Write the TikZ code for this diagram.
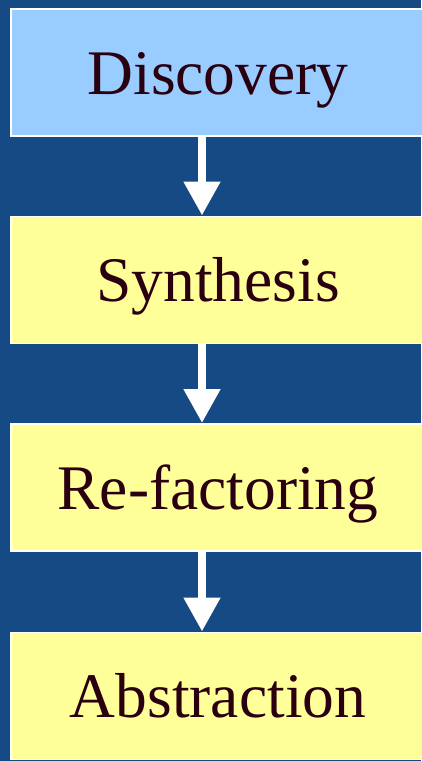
\documentclass[tikz,border=0pt]{standalone}
\usepackage{fontspec}
\setmainfont{Liberation Serif}
\usetikzlibrary{arrows.meta}
\definecolor{bgblue}{RGB}{22,74,132}
\definecolor{boxblue}{RGB}{153,204,255}
\definecolor{boxyellow}{RGB}{255,255,153}
\definecolor{txt}{RGB}{42,0,16}
\tikzset{
  stage/.style={draw=white, line width=1.5pt, minimum width=416pt, minimum height=127pt, inner sep=0pt, anchor=north west},
  label/.style={anchor=base, text=txt, font=\fontsize{63.5}{63.5}\selectfont, inner sep=0pt},
  flow/.style={draw=white, line width=8pt, -{Triangle[width=35pt,length=34pt]}}
}
\begin{document}
\begin{tikzpicture}[x=1pt,y=-1pt]
\fill[bgblue] (0,0) rectangle (421,761);
\useasboundingbox (0,0) rectangle (421,761);
\node[stage, fill=boxblue] (d) at (10,8) {};
\node[stage, fill=boxyellow] (s) at (10,215.5) {};
\node[stage, fill=boxyellow] (r) at (10,423) {};
\node[stage, fill=boxyellow] (a) at (10,631.5) {};
\node[label] (dt) at (218,94) {Discovery};
\node[label] (st) at (218,301.5) {Synthesis};
\node[label] (rt) at (218,509) {Re-factoring};
\node[label] (at) at (218,717.5) {Abstraction};
\draw[flow] (d.south -| 202,0) -- (s.north -| 202,0);
\draw[flow] (s.south -| 202,0) -- (r.north -| 202,0);
\draw[flow] (r.south -| 202,0) -- (a.north -| 202,0);
\end{tikzpicture}
\end{document}
